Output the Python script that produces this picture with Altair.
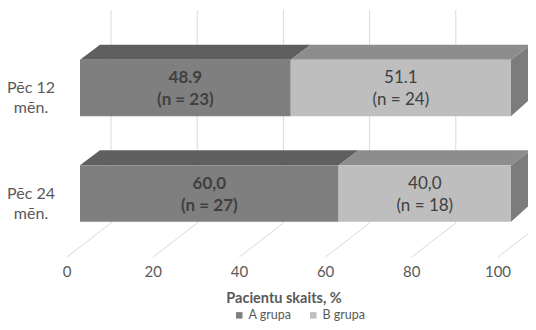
import altair as alt
import pandas as pd

# ---------------- data ----------------
categories = ["Pēc 12\nmēn.", "Pēc 24\nmēn."]
groups = ["A grupa", "B grupa"]
a_values = [48.9, 60.0]
b_values = [51.1, 40.0]
a_counts = [23, 27]
b_counts = [24, 18]
a_texts = ["48.9", "60,0"]
b_texts = ["51.1", "40,0"]
ticks = [0, 20, 40, 60, 80, 100]
axis_title = "Pacientu skaits, %"

# ---------------- styling / layout ----------------
front_col = {"A grupa": "#7f7f7f", "B grupa": "#bebebe"}
top_col = {"A grupa": "#5f5f5f", "B grupa": "#8d8d8d"}
side_col = "#7c7c7c"
FONT = "Lato"

PX = 4.31            # pixels per percent
W, H = 520, 314
X0 = -72 / PX
X1 = X0 + W / PX
RY = 105.5           # pixels per category row
Y0 = -80 / RY
Y1 = Y0 + H / RY
HALF = 28.3 / RY
DX = 20 / PX
DY_TOP = 15 / RY
DY_BOT = 18 / RY
WALL_DX = 31 / PX
FLOOR_DX = -13 / PX
WALL_TOP = (10 - 88) / RY
WALL_BOT = (223 - 88) / RY
FLOOR_FRONT = (257 - 88) / RY
TICK_Y = (272 - 88) / RY
TITLE_Y = (298.5 - 88) / RY

xs = alt.Scale(domain=[X0, X1], nice=False, zero=False)
ys = alt.Scale(domain=[Y0, Y1], nice=False, zero=False, reverse=True)

# ---------------- build tables ----------------
front, tops, sides, vlabels = [], [], [], []
for r in range(len(categories)):
    segs = [("A grupa", 0, a_values[r], a_texts[r], a_counts[r]),
            ("B grupa", a_values[r], a_values[r] + b_values[r], b_texts[r], b_counts[r])]
    for g, s0, s1, t, n in segs:
        front.append({"group": g, "x": s0, "x2": s1, "y": r - HALF, "y2": r + HALF})
        fid = f"top{r}{g}"
        tops.append({"face": fid, "fill": top_col[g], "y": r - HALF, "x": s0, "x2": s1})
        tops.append({"face": fid, "fill": top_col[g], "y": r - HALF - DY_TOP,
                     "x": s0 + DX, "x2": s1 + DX})
        vlabels.append({"x": (s0 + s1) / 2, "y": r - 10 / RY, "label": f"{t}\n(n = {n})",
                        "bold": g == "A grupa"})
    end = a_values[r] + b_values[r]
    sid = f"side{r}"
    sides.append({"face": sid, "x": end, "y": r - HALF, "y2": r + HALF})
    sides.append({"face": sid, "x": end + DX, "y": r - HALF - DY_TOP, "y2": r + HALF - DY_BOT})

front_df = pd.DataFrame(front)
tops_df = pd.DataFrame(tops)
sides_df = pd.DataFrame(sides)
vl_df = pd.DataFrame(vlabels)

grid_df = pd.DataFrame({"t": ticks})
grid_df["xw"] = grid_df["t"] + WALL_DX
grid_df["xf"] = grid_df["t"] + FLOOR_DX
grid_df["label"] = grid_df["t"].astype(str)

cat_df = pd.DataFrame({"label": categories, "r": list(range(len(categories)))})
cat_df["x"] = (31 - 80) / PX
cat_df["y"] = cat_df["r"]

# ---------------- layers ----------------
wall = alt.Chart(grid_df).transform_calculate(
    yt=str(WALL_TOP), yb=str(WALL_BOT)
).mark_rule(color="#d9d9d9", strokeWidth=1).encode(
    x=alt.X("xw:Q", scale=xs, axis=None),
    y=alt.Y("yt:Q", scale=ys, axis=None),
    y2="yb:Q",
)
floor = alt.Chart(grid_df).transform_calculate(
    yf=str(FLOOR_FRONT), yb=str(WALL_BOT)
).mark_rule(color="#d9d9d9", strokeWidth=1).encode(
    x=alt.X("xf:Q", scale=xs, axis=None),
    x2="xw:Q",
    y=alt.Y("yf:Q", scale=ys, axis=None),
    y2="yb:Q",
)
tick_text = alt.Chart(grid_df).transform_calculate(
    yt=str(TICK_Y)
).mark_text(font=FONT, fontSize=15, color="#595959", baseline="middle", align="center").encode(
    x=alt.X("xf:Q", scale=xs, axis=None),
    y=alt.Y("yt:Q", scale=ys, axis=None),
    text="label:N",
)

top_faces = alt.Chart(tops_df).mark_area(orient="horizontal", interpolate="linear").encode(
    y=alt.Y("y:Q", scale=ys, axis=None),
    x=alt.X("x:Q", scale=xs, axis=None, stack=None),
    x2="x2:Q",
    detail="face:N",
    fill=alt.Fill("fill:N", scale=None),
)
side_faces = alt.Chart(sides_df).mark_area(orient="vertical", interpolate="linear", color=side_col).encode(
    x=alt.X("x:Q", scale=xs, axis=None),
    y=alt.Y("y:Q", scale=ys, axis=None, stack=None),
    y2="y2:Q",
    detail="face:N",
)
front_faces = alt.Chart(front_df).mark_rect().encode(
    x=alt.X("x:Q", scale=xs, axis=None),
    x2="x2:Q",
    y=alt.Y("y:Q", scale=ys, axis=None),
    y2="y2:Q",
    color=alt.Color("group:N",
                    scale=alt.Scale(domain=groups, range=[front_col[g] for g in groups]),
                    legend=alt.Legend(title=None, orient="none", direction="horizontal",
                                      legendX=225, legendY=301, symbolType="square",
                                      symbolSize=42, symbolStrokeWidth=0,
                                      labelFont=FONT, labelFontSize=12.5, labelColor="#595959",
                                      labelOffset=3, columnPadding=15, padding=0)),
)
val_a = alt.Chart(vl_df).transform_filter("datum.bold").mark_text(
    font=FONT, fontSize=17, fontWeight="bold", color="#404040",
    lineBreak="\n", lineHeight=22, baseline="middle", align="center").encode(
    x=alt.X("x:Q", scale=xs, axis=None),
    y=alt.Y("y:Q", scale=ys, axis=None),
    text="label:N",
)
val_b = alt.Chart(vl_df).transform_filter("!datum.bold").mark_text(
    font=FONT, fontSize=17, color="#404040",
    lineBreak="\n", lineHeight=22, baseline="middle", align="center").encode(
    x=alt.X("x:Q", scale=xs, axis=None),
    y=alt.Y("y:Q", scale=ys, axis=None),
    text="label:N",
)
cat_text = alt.Chart(cat_df).mark_text(
    font=FONT, fontSize=16, color="#595959",
    lineBreak="\n", lineHeight=20, baseline="middle", align="center").encode(
    x=alt.X("x:Q", scale=xs, axis=None),
    y=alt.Y("y:Q", scale=ys, axis=None),
    text="label:N",
)
title_df = pd.DataFrame({"label": [axis_title], "x": [(284 - 80) / PX], "y": [TITLE_Y]})
title_text = alt.Chart(title_df).mark_text(
    font=FONT, fontSize=14.5, fontWeight="bold", color="#595959",
    baseline="middle", align="center").encode(
    x=alt.X("x:Q", scale=xs, axis=None),
    y=alt.Y("y:Q", scale=ys, axis=None),
    text="label:N",
)

chart = alt.layer(
    wall, floor, tick_text, top_faces, side_faces, front_faces,
    val_a, val_b, cat_text, title_text,
).properties(
    width=W, height=H, padding=0,
    autosize=alt.AutoSizeParams(type="none"),
).configure_view(stroke=None)

chart.save("out.html", embed_options={"renderer": "svg", "actions": False})
